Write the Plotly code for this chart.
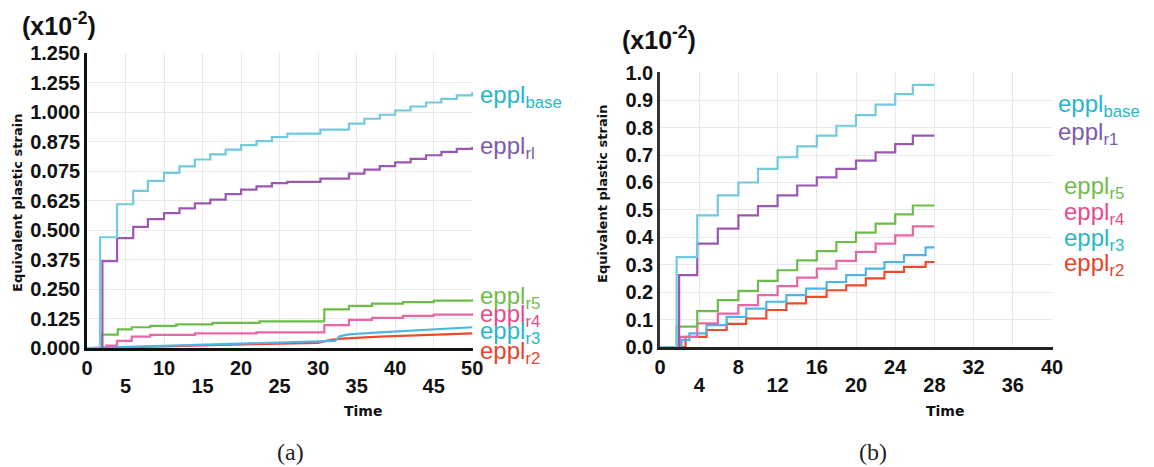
import plotly.graph_objects as go

W, H = 1154, 467

# ---------------- data (values in units of 1e-2) ----------------
# Panel (a)
a_base_t = [0, 1.7, 3.9, 6.0, 7.9, 10.0, 12.0, 14.0, 16.0, 18.0, 20.0, 22.0, 24.0, 26.0, 30.3, 34.0, 36.0, 38.0, 40.0, 42.0, 44.0, 46.0, 48.0, 50.0]
a_base_v = [0, 0.47, 0.61, 0.667, 0.709, 0.743, 0.771, 0.80, 0.822, 0.842, 0.861, 0.878, 0.895, 0.91, 0.927, 0.952, 0.973, 0.99, 1.008, 1.025, 1.042, 1.057, 1.072, 1.086]
a_r1_t = [0, 2.0, 3.9, 6.0, 7.9, 10.0, 12.0, 14.0, 16.0, 18.0, 20.0, 22.0, 24.0, 26.0, 30.3, 34.0, 36.0, 38.0, 40.0, 42.0, 44.0, 46.0, 48.0, 50.0]
a_r1_v = [0, 0.369, 0.466, 0.514, 0.547, 0.572, 0.593, 0.614, 0.63, 0.653, 0.672, 0.686, 0.70, 0.705, 0.719, 0.74, 0.757, 0.772, 0.788, 0.803, 0.818, 0.832, 0.845, 0.853]
a_r5_t = [0, 1.9, 4.0, 5.8, 8.2, 11.6, 16.3, 22.4, 30.8, 34.0, 37.0, 41.0, 45.0, 50.0]
a_r5_v = [0, 0.057, 0.079, 0.088, 0.094, 0.100, 0.107, 0.113, 0.164, 0.179, 0.188, 0.195, 0.201, 0.207]
a_r4_t = [0, 2.5, 3.9, 5.8, 8.2, 14.0, 22.0, 30.8, 34.0, 37.0, 41.0, 45.0, 50.0]
a_r4_v = [0, 0.01, 0.03, 0.048, 0.056, 0.062, 0.066, 0.097, 0.119, 0.128, 0.136, 0.142, 0.148]
a_r3_t = [0, 3.0, 8.0, 14.0, 20.0, 26.0, 30.0, 32.2, 32.8, 34.0, 38.0, 42.0, 46.0, 50.0]
a_r3_v = [0, 0.003, 0.008, 0.014, 0.02, 0.025, 0.027, 0.03, 0.05, 0.058, 0.066, 0.074, 0.081, 0.088]
a_r2_t = [0, 4.0, 10.0, 16.0, 22.0, 26.0, 30.0, 31.5, 33.0, 38.0, 44.0, 50.0]
a_r2_v = [0, 0.002, 0.007, 0.012, 0.016, 0.02, 0.022, 0.034, 0.04, 0.048, 0.055, 0.062]

# Panel (b)
b_main_t = [0, 1.7, 3.8, 5.9, 8.0, 10.0, 12.0, 14.0, 16.0, 18.0, 20.0, 22.0, 24.0, 25.8, 28.0]
b_base_v = [0, 0.328, 0.48, 0.553, 0.60, 0.65, 0.692, 0.732, 0.771, 0.807, 0.846, 0.884, 0.922, 0.956, 0.956]
b_r1_t = [0, 1.95, 3.8, 5.9, 8.0, 10.0, 12.0, 14.0, 16.0, 18.0, 20.0, 22.0, 24.0, 25.8, 28.0]
b_r1_v = [0, 0.262, 0.377, 0.432, 0.48, 0.514, 0.553, 0.589, 0.619, 0.65, 0.68, 0.71, 0.74, 0.771, 0.771]
b_r5_v = [0, 0.074, 0.131, 0.171, 0.205, 0.241, 0.28, 0.316, 0.35, 0.383, 0.417, 0.45, 0.484, 0.516, 0.516]
b_r4_t = [0, 2.0, 3.8, 5.9, 8.0, 10.0, 12.0, 14.0, 16.0, 18.0, 20.0, 22.0, 24.0, 25.8, 28.0]
b_r4_v = [0, 0.037, 0.086, 0.122, 0.153, 0.189, 0.222, 0.253, 0.286, 0.314, 0.347, 0.377, 0.407, 0.44, 0.44]
b_r3_t = [0, 2.2, 3.0, 4.75, 6.8, 8.8, 10.85, 12.9, 14.9, 17.0, 19.0, 21.0, 22.9, 24.9, 27.1, 28.0]
b_r3_v = [0, 0.025, 0.05, 0.08, 0.11, 0.14, 0.165, 0.189, 0.213, 0.237, 0.262, 0.286, 0.31, 0.335, 0.363, 0.363]
b_r2_t = [0, 2.6, 4.75, 6.8, 8.8, 10.85, 12.9, 14.9, 17.0, 19.0, 21.0, 22.9, 24.9, 27.1, 28.0]
b_r2_v = [0, 0.037, 0.062, 0.084, 0.104, 0.135, 0.159, 0.183, 0.207, 0.225, 0.25, 0.274, 0.292, 0.31, 0.31]

# tick labels
a_ytick_vals = [0, 0.125, 0.25, 0.375, 0.5, 0.625, 0.75, 0.875, 1.0, 1.125, 1.25]
a_ytick_text = ["0.000", "0.125", "0.250", "0.375", "0.500", "0.625", "0.075", "0.875", "1.000", "1.255", "1.250"]
a_x_row1 = [0, 10, 20, 30, 40, 50]
a_x_row2 = [5, 15, 25, 35, 45]
b_ytick_vals = [0, 0.1, 0.2, 0.3, 0.4, 0.5, 0.6, 0.7, 0.8, 0.9, 1.0]
b_ytick_text = ["0.0", "0.1", "0.2", "0.3", "0.4", "0.5", "0.6", "0.7", "0.8", "0.9", "1.0"]
b_x_row1 = [0, 8, 16, 24, 32, 40]
b_x_row2 = [4, 12, 20, 28, 36]

# series styling
C_BASE, C_R1, C_R5, C_R4, C_R3, C_R2 = "#72cadc", "#9b58b2", "#6cbd4a", "#e766a6", "#4cb6ea", "#ee4a2c"
L_BASE, L_R1, L_R5, L_R4, L_R3, L_R2 = "#27b6c9", "#7b5ca9", "#73bb4c", "#e84b8a", "#27b8c8", "#e8442b"

TICK_FONT = dict(family="Liberation Sans Narrow, Liberation Sans, Arial", size=20, color="#111", weight="bold")


def px_x(x):
    return x / W


def px_y(y):
    return 1 - y / H


fig = go.Figure()

def add(t, v, color, xa, ya, shape="hv"):
    fig.add_trace(go.Scatter(x=t, y=v, mode="lines", line=dict(color=color, width=2.2, shape=shape),
                             xaxis=xa, yaxis=ya, showlegend=False, hoverinfo="skip"))

# panel (a) -- draw lower series first
add(a_r2_t, a_r2_v, C_R2, "x", "y", "linear")
add(a_r3_t, a_r3_v, C_R3, "x", "y", "linear")
add(a_r4_t, a_r4_v, C_R4, "x", "y")
add(a_r5_t, a_r5_v, C_R5, "x", "y")
add(a_r1_t, a_r1_v, C_R1, "x", "y")
add(a_base_t, a_base_v, C_BASE, "x", "y")
# panel (b)
add(b_r2_t, b_r2_v, C_R2, "x2", "y2")
add(b_r3_t, b_r3_v, C_R3, "x2", "y2")
add(b_r4_t, b_r4_v, C_R4, "x2", "y2")
add(b_main_t, b_r5_v, C_R5, "x2", "y2")
add(b_r1_t, b_r1_v, C_R1, "x2", "y2")
add(b_main_t, b_base_v, C_BASE, "x2", "y2")
# empty traces to activate the second-row tick axes
fig.add_trace(go.Scatter(x=[], y=[], xaxis="x3", yaxis="y", showlegend=False, hoverinfo="skip"))
fig.add_trace(go.Scatter(x=[], y=[], xaxis="x4", yaxis="y2", showlegend=False, hoverinfo="skip"))

GRID = "#e9e9e9"
a_dom_x = [px_x(87), px_x(473)]
a_dom_y = [px_y(348), px_y(53)]
b_dom_x = [px_x(660), px_x(1053)]
b_dom_y = [px_y(347), px_y(72)]

a_xvals = sorted(a_x_row1 + a_x_row2)
b_xvals = sorted(b_x_row1 + b_x_row2)

fig.update_layout(
    width=W, height=H, margin=dict(l=0, r=0, t=0, b=0, pad=0, autoexpand=False), autosize=False,
    paper_bgcolor="white", plot_bgcolor="white",
    xaxis=dict(domain=a_dom_x, range=[0, 50.1], anchor="y", automargin=False,
               tickvals=a_xvals, ticktext=[str(v) if v in a_x_row1 else "" for v in a_xvals],
               showgrid=True, gridcolor=GRID, gridwidth=1, zeroline=False,
               showline=True, linecolor="#111", linewidth=2.5, ticks="", tickfont=TICK_FONT),
    xaxis3=dict(domain=a_dom_x, range=[0, 50.1], anchor="y", overlaying="x", automargin=False,
                tickvals=a_x_row2, ticktext=[str(v) for v in a_x_row2],
                showgrid=False, zeroline=False, showline=False, ticks="",
                ticklabelstandoff=24, tickfont=TICK_FONT),
    yaxis=dict(domain=a_dom_y, range=[0, 1.252], anchor="x", automargin=False,
               tickvals=a_ytick_vals, ticktext=a_ytick_text,
               showgrid=True, gridcolor=GRID, gridwidth=1, zeroline=False,
               showline=True, linecolor="#111", linewidth=2.5, ticks="", tickfont=TICK_FONT),
    xaxis2=dict(domain=b_dom_x, range=[0, 40.1], anchor="y2", automargin=False,
                tickvals=b_xvals, ticktext=[str(v) if v in b_x_row1 else "" for v in b_xvals],
                showgrid=True, gridcolor=GRID, gridwidth=1, zeroline=False,
                showline=True, linecolor="#222", linewidth=2.5, ticks="", tickfont=TICK_FONT),
    xaxis4=dict(domain=b_dom_x, range=[0, 40.1], anchor="y2", overlaying="x2", automargin=False,
                tickvals=b_x_row2, ticktext=[str(v) for v in b_x_row2],
                showgrid=False, zeroline=False, showline=False, ticks="",
                ticklabelstandoff=24, tickfont=TICK_FONT),
    yaxis2=dict(domain=b_dom_y, range=[0, 1.003], anchor="x2", automargin=False,
                tickvals=b_ytick_vals, ticktext=b_ytick_text,
                showgrid=True, gridcolor=GRID, gridwidth=1, zeroline=False,
                showline=True, linecolor="#333", linewidth=2.5, ticks="", tickfont=TICK_FONT),
)

ann = []
LBL_FONT = "Liberation Sans, Arial"
def label(x, y, text, color, xa="left"):
    ann.append(dict(x=px_x(x), y=px_y(y), xref="paper", yref="paper", text=text, showarrow=False,
                    xanchor=xa, yanchor="middle", font=dict(family=LBL_FONT, size=24, color=color)))

# series labels panel (a)
label(478, 96, "eppl<sub>base</sub>", L_BASE)
label(478, 148, "eppl<sub>rl</sub>", L_R1)
label(478, 297, "eppl<sub>r5</sub>", L_R5)
label(478, 315, "eppl<sub>r4</sub>", L_R4)
label(478, 332, "eppl<sub>r3</sub>", L_R3)
label(478, 352, "eppl<sub>r2</sub>", L_R2)
# series labels panel (b)
label(1056, 106, "eppl<sub>base</sub>", L_BASE)
label(1056, 134, "eppl<sub>r1</sub>", L_R1)
label(1062, 187, "eppl<sub>r5</sub>", L_R5)
label(1062, 213, "eppl<sub>r4</sub>", L_R4)
label(1062, 239, "eppl<sub>r3</sub>", L_R3)
label(1062, 264, "eppl<sub>r2</sub>", L_R2)

# scale factor labels
for (x, y) in [(59, 24), (659, 38)]:
    ann.append(dict(x=px_x(x), y=px_y(y), xref="paper", yref="paper", text="(x10<sup>-2</sup>)",
                    showarrow=False, xanchor="center", yanchor="middle",
                    font=dict(family="Liberation Sans Narrow, Liberation Sans, Arial", size=25, color="#111", weight="bold")))

# axis titles
for (x, y) in [(18, 203), (602, 194)]:
    ann.append(dict(x=px_x(x), y=px_y(y), xref="paper", yref="paper", text="Equivalent plastic strain",
                    textangle=-90, showarrow=False, xanchor="center", yanchor="middle",
                    font=dict(family="DejaVu Sans", size=13, color="#111", weight="bold")))
for (x, y) in [(363, 411), (945, 411)]:
    ann.append(dict(x=px_x(x), y=px_y(y), xref="paper", yref="paper", text="Time",
                    showarrow=False, xanchor="center", yanchor="middle",
                    font=dict(family="DejaVu Sans", size=14, color="#111", weight="bold")))

# panel captions
for (x, y, t) in [(290, 452, "(a)"), (873, 452, "(b)")]:
    ann.append(dict(x=px_x(x), y=px_y(y), xref="paper", yref="paper", text=t,
                    showarrow=False, xanchor="center", yanchor="middle",
                    font=dict(family="Liberation Serif, DejaVu Serif", size=24, color="#222")))

fig.update_layout(annotations=ann)
fig.write_html("out.html", config={"displayModeBar": False},
               post_script="document.body.style.margin='0';document.body.style.overflow='hidden';")
